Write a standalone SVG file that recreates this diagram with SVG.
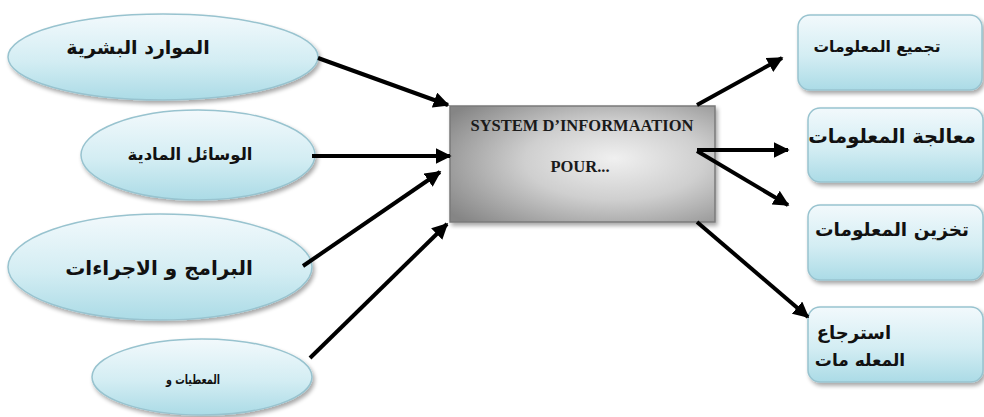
<svg xmlns="http://www.w3.org/2000/svg" width="984" height="417" viewBox="0 0 984 417">
  <defs>
    <linearGradient id="blueFill" x1="0" y1="0" x2="0" y2="1">
      <stop offset="0" stop-color="#f2f9fc"/>
      <stop offset="0.55" stop-color="#d3edf3"/>
      <stop offset="1" stop-color="#abdbe6"/>
    </linearGradient>
    <radialGradient id="grayFill" cx="0.62" cy="0.5" r="0.75" fx="0.62" fy="0.45">
      <stop offset="0" stop-color="#f0f0f0"/>
      <stop offset="0.45" stop-color="#cfcfcf"/>
      <stop offset="1" stop-color="#858585"/>
    </radialGradient>
    <filter id="shadow" x="-10%" y="-10%" width="125%" height="135%">
      <feGaussianBlur in="SourceAlpha" stdDeviation="2"/>
      <feOffset dx="2" dy="3" result="b"/>
      <feComponentTransfer><feFuncA type="linear" slope="0.35"/></feComponentTransfer>
      <feMerge><feMergeNode/><feMergeNode in="SourceGraphic"/></feMerge>
    </filter>
    <marker id="arrow" viewBox="0 0 10 10" refX="9" refY="5" markerWidth="4" markerHeight="4" orient="auto" markerUnits="strokeWidth">
      <path d="M0,0 L10,5 L0,10 Z" fill="#000"/>
    </marker>
  </defs>
  <style>
    .oval { fill: url(#blueFill); stroke: #98c3cf; stroke-width: 1.5; filter: url(#shadow); }
    .card { fill: url(#blueFill); stroke: #98c3cf; stroke-width: 1.5; filter: url(#shadow); }
    .ar { font-family: "DejaVu Sans", "Noto Sans", sans-serif; font-weight: bold; fill: #111; direction: rtl; unicode-bidi: embed; }
    .lat { font-family: "Liberation Serif", "Times New Roman", serif; font-weight: bold; fill: #1a1a1a; }
    .link { stroke: #000; stroke-width: 4; fill: none; marker-end: url(#arrow); }
  </style>

  <!-- input resources -->
  <g id="node-human">
    <ellipse class="oval" cx="163" cy="57" rx="155" ry="43"/>
    <text class="ar" x="138" y="54" font-size="19" text-anchor="middle">الموارد البشرية</text>
  </g>
  <g id="node-material">
    <ellipse class="oval" cx="198" cy="155" rx="117" ry="45"/>
    <text class="ar" x="190" y="160" font-size="16.5" text-anchor="middle">الوسائل المادية</text>
  </g>
  <g id="node-programs">
    <ellipse class="oval" cx="160" cy="267" rx="152" ry="53"/>
    <text class="ar" x="159" y="275" font-size="20" text-anchor="middle">البرامج و الاجراءات</text>
  </g>
  <g id="node-data">
    <ellipse class="oval" cx="202" cy="377" rx="110" ry="38"/>
    <text class="ar" x="193" y="384" font-size="13" text-anchor="middle" textLength="54" lengthAdjust="spacingAndGlyphs">المعطيات و</text>
  </g>

  <!-- central system -->
  <g id="node-system">
    <rect x="450" y="106" width="265" height="116" fill="url(#grayFill)" stroke="#7a7a7a" stroke-width="1.5" filter="url(#shadow)"/>
    <text class="lat" x="582" y="131" font-size="16.5" text-anchor="middle">SYSTEM D’INFORMAATION</text>
    <text class="lat" x="580" y="172" font-size="16.5" text-anchor="middle">POUR...</text>
  </g>

  <!-- output functions -->
  <g id="node-collect">
    <rect class="card" x="798" y="15" width="184" height="75" rx="12"/>
    <text class="ar" x="877" y="52" font-size="15.5" text-anchor="middle">تجميع المعلومات</text>
  </g>
  <g id="node-process">
    <rect class="card" x="808" y="108" width="175" height="74" rx="12"/>
    <text class="ar" x="892" y="143" font-size="19.5" text-anchor="middle">معالجة المعلومات</text>
  </g>
  <g id="node-store">
    <rect class="card" x="808" y="205" width="175" height="75" rx="12"/>
    <text class="ar" x="892" y="236" font-size="18.5" text-anchor="middle">تخزين المعلومات</text>
  </g>
  <g id="node-retrieve">
    <rect class="card" x="808" y="307" width="175" height="75" rx="12"/>
    <text class="ar" x="854" y="339" font-size="18" text-anchor="middle">استرجاع</text>
    <text class="ar" x="860" y="366" font-size="17" text-anchor="middle">المعله مات</text>
  </g>

  <!-- connectors -->
  <g id="connectors">
    <line class="link" x1="318" y1="58" x2="448" y2="105"/>
    <line class="link" x1="312" y1="156" x2="450" y2="156"/>
    <line class="link" x1="303" y1="266" x2="440" y2="172"/>
    <line class="link" x1="310" y1="358" x2="447" y2="224"/>
    <line class="link" x1="697" y1="105" x2="782" y2="58"/>
    <line class="link" x1="697" y1="150" x2="788" y2="150"/>
    <line class="link" x1="697" y1="151" x2="788" y2="205"/>
    <line class="link" x1="697" y1="222" x2="808" y2="317"/>
  </g>
</svg>
